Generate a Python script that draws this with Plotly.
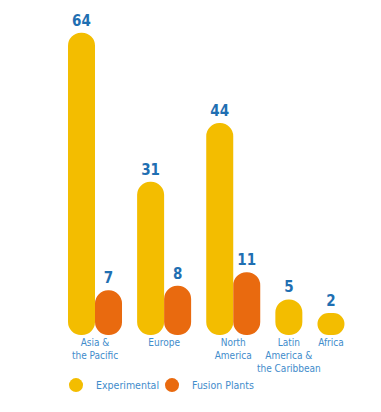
import plotly.graph_objects as go

# ---- data ----
categories = ["Asia &<br>the Pacific", "Europe", "North<br>America",
              "Latin<br>America &<br>the Caribbean", "Africa"]
experimental = [64, 31, 44, 5, 2]
fusion_plants = [7, 8, 11, None, None]
series_names = ["Experimental", "Fusion Plants"]

# ---- style ----
YELLOW = "#F3BD00"
ORANGE = "#E96A0F"
VALUE_BLUE = "#1F6FB2"
LABEL_BLUE = "#3F8CCB"
NARROW = "DejaVu Sans Condensed, Liberation Sans Narrow, Arial Narrow, Liberation Sans, sans-serif"

BAR_W = 1.0      # bar width in axis units
GAP = 0.56       # gap between groups (axis units)
CAP = 2.88       # rounded-cap allowance below zero (value units)

# layout positions computed from data
yx, ox, centers = [], [], []
pos = 0.0
for e, f in zip(experimental, fusion_plants):
    n = (e is not None) + (f is not None)
    yx.append(pos + 0.5 * BAR_W)
    ox.append(pos + 1.5 * BAR_W if f is not None else None)
    centers.append(pos + n * BAR_W / 2)
    pos += n * BAR_W + GAP

fig = go.Figure()

fig.add_trace(go.Bar(
    x=yx, y=[v + CAP for v in experimental], base=-CAP, width=BAR_W,
    marker=dict(color=YELLOW, cornerradius="50%", line=dict(width=0)),
    text=[str(v) for v in experimental], textposition="outside",
    textfont=dict(family=NARROW, size=15, color=VALUE_BLUE, weight="bold"),
    cliponaxis=False, showlegend=False, name=series_names[0]))

fx = [x for x, v in zip(ox, fusion_plants) if v is not None]
fv = [v for v in fusion_plants if v is not None]
fig.add_trace(go.Bar(
    x=fx, y=[v + CAP for v in fv], base=-CAP, width=BAR_W,
    marker=dict(color=ORANGE, cornerradius="50%", line=dict(width=0)),
    text=[str(v) for v in fv], textposition="outside",
    textfont=dict(family=NARROW, size=15, color=VALUE_BLUE, weight="bold"),
    cliponaxis=False, showlegend=False, name=series_names[1]))

# legend entries with circular symbols, each in its own legend box
for name, col, lg in zip(series_names, [YELLOW, ORANGE], ["legend", "legend2"]):
    fig.add_trace(go.Scatter(x=[None], y=[None], mode="markers", name=name,
                             legend=lg,
                             marker=dict(color=col, size=14, symbol="circle")))

legend_common = dict(orientation="h", xanchor="left", y=-0.159, yanchor="middle",
                     bgcolor="rgba(0,0,0,0)",
                     font=dict(family=NARROW, size=10.5, color=LABEL_BLUE),
                     itemsizing="trace")

fig.update_layout(
    width=381, height=412,
    margin=dict(l=0, r=0, t=20, b=77),
    paper_bgcolor="white", plot_bgcolor="white",
    barmode="overlay",
    xaxis=dict(range=[-2.519, 11.593], tickvals=centers, ticktext=categories,
               tickangle=0, automargin=False,
               showgrid=False, zeroline=False, showline=False, ticks="",
               tickfont=dict(family=NARROW, size=10, color=LABEL_BLUE)),
    yaxis=dict(range=[-CAP, -CAP + 315 / 4.52], visible=False),
    legend=dict(x=0.147, **legend_common),
    legend2=dict(x=0.399, **legend_common),
)

fig.write_html("out.html")
